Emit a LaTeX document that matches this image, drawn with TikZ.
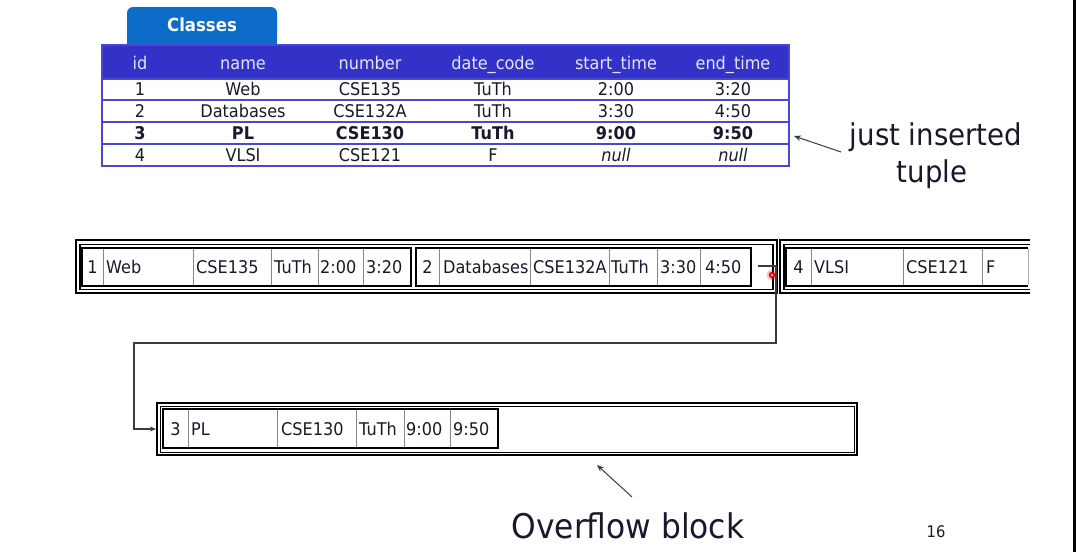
\documentclass[tikz,border=0pt]{standalone}
\usepackage{fontspec}
\setmainfont{DejaVu Sans}[FakeStretch=0.92]
\usetikzlibrary{arrows.meta}
\definecolor{tabblue}{RGB}{12,108,200}
\definecolor{hdrblue}{RGB}{50,50,200}
\definecolor{gridblue}{RGB}{72,72,215}
\definecolor{hdrtext}{RGB}{228,228,255}
\definecolor{ink}{RGB}{25,25,45}
\definecolor{sepgray}{RGB}{135,135,135}
\definecolor{wire}{RGB}{60,60,60}

\begin{document}
\begin{tikzpicture}[x=1pt,y=-1pt,
  tfont/.style={font=\fontsize{17.5}{20}\selectfont},
  hdr/.style={tfont, text=hdrtext, inner sep=0pt, anchor=base},
  tcell/.style={tfont, text=ink, inner sep=0pt, anchor=base},
  cell/.style={tfont, text=ink, inner sep=0pt, anchor=base west},
  idcell/.style={tfont, text=ink, inner sep=0pt, anchor=base},
  sep/.style={draw=sepgray, line width=0.9pt},
  tuplebox/.style={draw=black, line width=1.8pt, inner sep=0pt},
  pagebox/.style={draw=black, line width=2pt},
  pageinner/.style={draw=black, line width=1.2pt},
  label/.style={text=ink, inner sep=0pt, anchor=base},
  pointer/.style={draw=wire, line width=1pt, -{Stealth[length=7pt,width=5.5pt]}},
]
\useasboundingbox (0,0) rectangle (1076,552);
\fill[white] (0,0) rectangle (1076,552);
\fill[black] (1073,0) rectangle (1076,552);

% ---------- the Classes table ----------
\fill[tabblue, rounded corners=6pt] (127,7) rectangle (277,46);
\fill[tabblue] (127,30) rectangle (277,46);
\node[inner sep=0pt, text=white, font=\bfseries\fontsize{18}{20}\selectfont, anchor=base] (tabname) at (202,31) {Classes};

\fill[hdrblue] (102,45) rectangle (789,79);
\draw[gridblue, line width=1.6pt] (102,45) rectangle (789,166);
\foreach \ry in {79,100,122,144}
  \draw[gridblue, line width=1.6pt] (102,\ry) -- (789,\ry);

\foreach \cx/\ct/\cn in {140/id/id, 243/name/name, 370/number/number,
                         493/date\_code/date, 616/start\_time/start, 733/end\_time/end}
  \node[hdr] (h-\cn) at (\cx,69.5) {\ct};

\foreach \cx/\ct/\cn in {140/1/id, 243/Web/name, 370/CSE135/number,
                         493/TuTh/date, 616/2:00/start, 733/3:20/end}
  \node[tcell] (r1-\cn) at (\cx,95.5) {\ct};
\foreach \cx/\ct/\cn in {140/2/id, 243/Databases/name, 370/CSE132A/number,
                         493/TuTh/date, 616/3:30/start, 733/4:50/end}
  \node[tcell] (r2-\cn) at (\cx,117.5) {\ct};
\foreach \cx/\ct/\cn in {140/3/id, 243/PL/name, 370/CSE130/number,
                         493/TuTh/date, 616/9:00/start, 733/9:50/end}
  \node[tcell, font=\bfseries\fontsize{17.5}{20}\selectfont] (r3-\cn) at (\cx,139.5) {\ct};
\foreach \cx/\ct/\cn in {140/4/id, 243/VLSI/name, 370/CSE121/number, 493/F/date}
  \node[tcell] (r4-\cn) at (\cx,161.5) {\ct};
\node[tcell, font=\itshape\fontsize{17.5}{20}\selectfont] (r4-start) at (616,161.5) {null};
\node[tcell, font=\itshape\fontsize{17.5}{20}\selectfont] (r4-end) at (733,161.5) {null};

% label for the newly inserted row
\node[label, font=\fontsize{30}{34}\selectfont] (just) at (936,145) {just inserted};
\node[label, font=\fontsize{30}{34}\selectfont] (tuple) at (932,182) {tuple};
\coordinate (justtail) at (841,152);
\coordinate (row3tip) at (794,136);
\draw[pointer] (justtail) -- (row3tip);

% ---------- data page 1 ----------
\draw[pagebox] (76,240) rectangle (777,293);
\draw[pageinner] (80,244.5) rectangle (773,289.5);

\node[tuplebox, minimum width=329pt, minimum height=38pt] (t1) at (246.5,267) {};
\foreach \sx in {103,193,271,318,363} \draw[sep] (\sx,249) -- (\sx,285);
\node[idcell] (t1-id) at (92.5,273) {1};
\foreach \tx/\tt/\tn in {106/Web/name, 196/CSE135/number, 274/TuTh/date,
                         320/2:00/start, 366/3:20/end}
  \node[cell] (t1-\tn) at (\tx,273) {\tt};

\node[tuplebox, minimum width=335pt, minimum height=38pt] (t2) at (583.5,267) {};
\foreach \sx in {439,530,609,657,700} \draw[sep] (\sx,249) -- (\sx,285);
\node[idcell] (t2-id) at (427.5,273) {2};
\foreach \tx/\tt/\tn in {443/Databases/name, 533/CSE132A/number, 611/TuTh/date,
                         660/3:30/start, 705/4:50/end}
  \node[cell] (t2-\tn) at (\tx,273) {\tt};

% ---------- data page 2 (cut off at the right) ----------
\draw[pagebox] (1030,240) -- (780,240) -- (780,293) -- (1030,293);
\draw[pageinner] (1030,244.5) -- (784,244.5) -- (784,289.5) -- (1030,289.5);
\draw[line width=1.8pt] (1028,248) -- (786,248) -- (786,286) -- (1028,286);
\draw[sepgray!70, line width=0.9pt] (1028,249) -- (1028,285);
\foreach \sx in {811,903,982} \draw[sep] (\sx,249) -- (\sx,285);
\node[idcell] (t3-id) at (798.5,273) {4};
\foreach \tx/\tt/\tn in {814/VLSI/name, 906/CSE121/number, 986/F/date}
  \node[cell] (t3-\tn) at (\tx,273) {\tt};

% ---------- overflow block ----------
\node[draw=black, line width=2pt, minimum width=700pt, minimum height=52pt, inner sep=0pt] (ovf) at (507,429) {};
\draw[line width=1pt] (160,406) rectangle (854,452);
\node[tuplebox, minimum width=335pt, minimum height=39pt] (t4) at (330.5,428.5) {};
\foreach \sx in {188,277,356,404,450} \draw[sep] (\sx,410) -- (\sx,447);
\node[idcell] (t4-id) at (175.5,435) {3};
\foreach \tx/\tt/\tn in {191/PL/name, 281/CSE130/number, 359/TuTh/date,
                         406/9:00/start, 453/9:50/end}
  \node[cell] (t4-\tn) at (\tx,435) {\tt};

% overflow pointer from page 1 to the overflow block
\coordinate (ptr) at (758,266);
\draw[draw=wire, line width=1.1pt, -{Stealth[length=6pt,width=5pt]}]
  (ptr) -- (776,266) |- (134,343) |- (ovf.west);

% pointer mark on the page edge
\fill[red, opacity=0.25] (772,275) circle (5.5);
\fill[red!90!black] (772,275) circle (3.2);
\fill[white] (772,275) circle (1.1);

% caption of the overflow block
\node[label, font=\fontsize{34}{38}\selectfont] (ovflabel) at (628,538) {Overflow block};
\coordinate (ovftail) at (632,497);
\coordinate (ovftip) at (597,465);
\draw[pointer] (ovftail) -- (ovftip);

% slide number
\node[label, font=\fontsize{16}{18}\selectfont] (pageno) at (936,537) {16};
\end{tikzpicture}
\end{document}
